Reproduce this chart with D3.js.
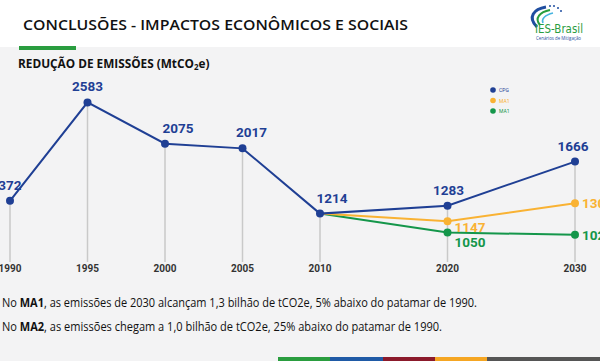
<!DOCTYPE html>
<html>
<head>
<meta charset="utf-8">
<script src="https://cdn.jsdelivr.net/npm/d3@7"></script>
<style>
  body { margin: 0; background: #fff; }
  svg { display: block; }
</style>
</head>
<body>
<div id="chart"></div>
<script>
// data
var years = [1990, 1995, 2000, 2005, 2010, 2020, 2030];
var cpg = [1372, 2583, 2075, 2017, 1214, 1283, 1666];
var ma1Years = [2010, 2020, 2030];
var ma1 = [1214, 1147, 1303];
var ma2Years = [2010, 2020, 2030];
var ma2 = [1214, 1050, 1029];
var legendLabels = ["CPG", "MA1", "MA1"];

var w = 600, h = 361;
var blue = "#1f3f94", orange = "#f9b233", green = "#14964a";

var svg = d3.select("#chart").append("svg")
    .attr("width", w)
    .attr("height", h);

// backgrounds
svg.append("rect").attr("width", w).attr("height", 47).attr("fill", "#ffffff");
svg.append("rect").attr("y", 47).attr("width", w).attr("height", h - 47).attr("fill", "#f3f3f4");
svg.append("rect").attr("x", 19).attr("y", 46).attr("width", 57).attr("height", 4).attr("fill", "#2a9d3f");

// title
svg.append("text")
    .attr("x", 23).attr("y", 30)
    .attr("textLength", 385).attr("lengthAdjust", "spacingAndGlyphs")
    .style("font-family", "'Open Sans', sans-serif")
    .style("font-size", "15px")
    .style("font-weight", 600)
    .style("fill", "#111")
    .text("CONCLUSÕES - IMPACTOS ECONÔMICOS E SOCIAIS");

var sub = svg.append("text")
    .attr("x", 18).attr("y", 68)
    .style("font-family", "'Open Sans', sans-serif")
    .style("font-size", "11.8px")
    .style("font-weight", "bold")
    .style("fill", "#111");
sub.append("tspan").text("REDUÇÃO DE EMISSÕES (MtCO");
sub.append("tspan").attr("dy", 2).style("font-size", "8px").text("2");
sub.append("tspan").attr("dy", -2).text("e)");

// logo (simplified)
var logo = svg.append("g");
logo.append("path").attr("d", "M546,7 C534,9 527,17 537,27").attr("fill", "none").attr("stroke", "#1f4ea0").attr("stroke-width", 3);
logo.append("path").attr("d", "M550,10 C540,12 534,18 540,25").attr("fill", "none").attr("stroke", "#2a9d3f").attr("stroke-width", 2);
logo.append("path").attr("d", "M553,13 C545,15 541,19 543,23").attr("fill", "none").attr("stroke", "#47b4e0").attr("stroke-width", 1.5);
logo.selectAll("circle.dot").data([[550, 6], [554, 6], [558, 8], [561, 11]]).enter().append("circle")
    .attr("cx", function(d) { return d[0]; }).attr("cy", function(d) { return d[1]; })
    .attr("r", 1).attr("fill", "#1f4ea0");
logo.append("text").attr("x", 535).attr("y", 33)
    .attr("textLength", 48).attr("lengthAdjust", "spacingAndGlyphs")
    .style("font-family", "'DejaVu Sans Condensed', sans-serif")
    .style("font-size", "12px").style("fill", "#2a9d3f")
    .text("IES-Brasil");
logo.append("text").attr("x", 536).attr("y", 40)
    .attr("textLength", 45).attr("lengthAdjust", "spacingAndGlyphs")
    .style("font-family", "'Open Sans', sans-serif")
    .style("font-size", "4.5px").style("fill", "#1f4ea0")
    .text("Cenários de Mitigação");

// scales: the picture draws the projections (after 2010) with a steeper
// vertical scale than the history, so each period gets its own y scale
var x = d3.scaleLinear().domain([1990, 2010, 2030]).range([10, 320, 575]);
var yHist = d3.scaleLinear().domain([1000, 2600]).range([231, 101]);
var yProj = d3.scaleLinear().domain([1000, 1700]).range([238.2, 157.7]);
function yOf(d) { return d.year > 2010 ? yProj(d.value) : yHist(d.value); }
var axisY = 262;

var cpgData = years.map(function(d, i) { return {year: d, value: cpg[i]}; });
var ma1Data = ma1Years.map(function(d, i) { return {year: d, value: ma1[i]}; });
var ma2Data = ma2Years.map(function(d, i) { return {year: d, value: ma2[i]}; });

// vertical drop lines
svg.selectAll("line.drop")
    .data(cpgData)
    .enter().append("line")
    .attr("x1", function(d) { return x(d.year); })
    .attr("x2", function(d) { return x(d.year); })
    .attr("y1", yOf)
    .attr("y2", axisY)
    .style("stroke", "#c9c9c9")
    .style("stroke-width", 1.5);

// x labels
svg.selectAll("text.year")
    .data(years)
    .enter().append("text")
    .attr("x", function(d) { return x(d); })
    .attr("y", 272)
    .attr("text-anchor", "middle")
    .style("font-family", "Roboto, sans-serif")
    .style("font-size", "10px")
    .style("font-weight", "bold")
    .style("fill", "#333")
    .text(function(d) { return d; });

var line = d3.line()
    .x(function(d) { return x(d.year); })
    .y(yOf);

function drawSeries(data, color, first) {
    svg.append("path")
        .datum(data)
        .attr("d", line)
        .style("fill", "none")
        .style("stroke", color)
        .style("stroke-width", 2);
    svg.append("g").selectAll("circle")
        .data(data.slice(first))
        .enter().append("circle")
        .attr("cx", function(d) { return x(d.year); })
        .attr("cy", yOf)
        .attr("r", 4)
        .attr("fill", color);
}

drawSeries(ma2Data, green, 1);
drawSeries(ma1Data, orange, 1);
drawSeries(cpgData, blue, 0);

// value labels
var labelFont = function(sel) {
    sel.style("font-family", "Roboto, sans-serif")
        .style("font-size", "13.5px")
        .style("font-weight", "bold");
};

var cpgOffsets = [-4, 0, 13, 9, 12, 1, -2];
svg.selectAll("text.cpg")
    .data(cpgData)
    .enter().append("text")
    .attr("x", function(d, i) { return x(d.year) + cpgOffsets[i]; })
    .attr("y", function(d) { return yOf(d) - 11; })
    .attr("text-anchor", "middle")
    .style("fill", blue)
    .call(labelFont)
    .text(function(d) { return d.value; });

// 2020 labels sit below the point, 2030 labels to the right of it
var dyMa1 = [0, 11, 5], dyMa2 = [0, 15, 5];
svg.selectAll("text.ma1")
    .data(ma1Data.slice(1))
    .enter().append("text")
    .attr("x", function(d) { return x(d.year) + 7; })
    .attr("y", function(d, i) { return yOf(d) + dyMa1[i + 1]; })
    .style("fill", orange)
    .call(labelFont)
    .text(function(d) { return d.value; });

svg.selectAll("text.ma2")
    .data(ma2Data.slice(1))
    .enter().append("text")
    .attr("x", function(d) { return x(d.year) + 7; })
    .attr("y", function(d, i) { return yOf(d) + dyMa2[i + 1]; })
    .style("fill", green)
    .call(labelFont)
    .text(function(d) { return d.value; });

// legend
var legend = svg.append("g").attr("transform", "translate(493,90)");
legend.selectAll("circle")
    .data(legendLabels)
    .enter().append("circle")
    .attr("cx", 0)
    .attr("cy", function(d, i) { return i * 10.5; })
    .attr("r", 2.8)
    .attr("fill", function(d, i) { return [blue, orange, green][i]; });
legend.selectAll("text")
    .data(legendLabels)
    .enter().append("text")
    .attr("x", 6)
    .attr("y", function(d, i) { return i * 10.5 + 2; })
    .style("font-family", "Roboto, sans-serif")
    .style("font-size", "5px")
    .style("fill", function(d, i) { return [blue, orange, green][i]; })
    .text(function(d) { return d; });

// notes
var notes = [
    ["MA1", ", as emissões de 2030 alcançam 1,3 bilhão de tCO2e, 5% abaixo do patamar de 1990.", 307, 477],
    ["MA2", ", as emissões chegam a 1,0 bilhão de tCO2e, 25% abaixo do patamar de 1990.", 331, 442]
];
notes.forEach(function(n) {
    var t = svg.append("text")
        .attr("x", 2).attr("y", n[2])
        .attr("textLength", n[3] - 2).attr("lengthAdjust", "spacingAndGlyphs")
        .style("font-family", "'Open Sans', sans-serif")
        .style("font-size", "12px")
        .style("fill", "#111");
    t.append("tspan").text("No ");
    t.append("tspan").style("font-weight", "bold").text(n[0]);
    t.append("tspan").text(n[1]);
});

// bottom color bar
var barColors = ["#2a9d3f", "#1f5aa6", "#8b1a2b", "#f5a623", "#555555"];
var barEdges = [278, 330, 383, 435, 487, 600];
svg.selectAll("rect.bar")
    .data(barColors)
    .enter().append("rect")
    .attr("x", function(d, i) { return barEdges[i]; })
    .attr("y", 357)
    .attr("width", function(d, i) { return barEdges[i + 1] - barEdges[i]; })
    .attr("height", 4)
    .attr("fill", function(d) { return d; });
</script>
</body>
</html>
